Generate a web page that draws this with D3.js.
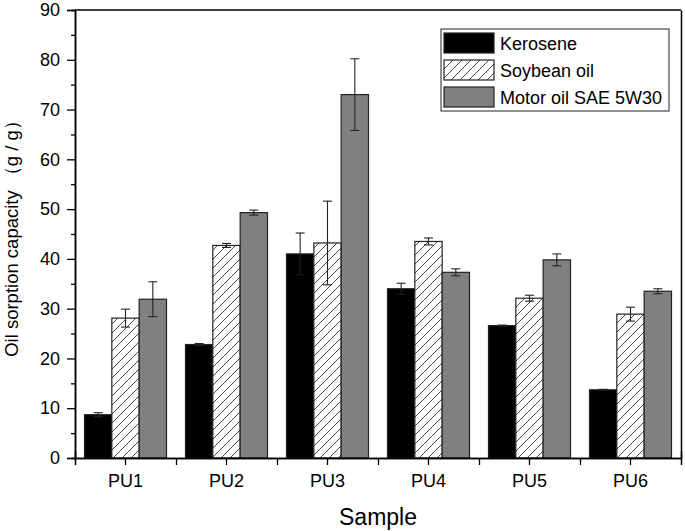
<!DOCTYPE html>
<html>
<head>
<meta charset="utf-8">
<script src="https://cdn.jsdelivr.net/npm/d3@7"></script>
<style>
  body { margin: 0; background: #fff; }
  text { font-family: Arial, "Liberation Sans", sans-serif; fill: #000; }
</style>
</head>
<body>
<svg id="chart" width="685" height="531"></svg>
<script>
const samples = ["PU1", "PU2", "PU3", "PU4", "PU5", "PU6"];
const seriesNames = ["Kerosene", "Soybean oil", "Motor oil SAE 5W30"];
const kerosene = [8.7, 22.8, 41.0, 34.0, 26.6, 13.7];
const keroseneErr = [0.4, 0.2, 4.2, 1.1, 0.1, 0.1];
const soybean = [28.1, 42.7, 43.2, 43.5, 32.1, 28.9];
const soybeanErr = [1.8, 0.4, 8.4, 0.7, 0.6, 1.4];
const motor = [31.9, 49.3, 73.0, 37.3, 39.8, 33.5];
const motorErr = [3.5, 0.5, 7.2, 0.7, 1.2, 0.5];
const yTicks = [0, 10, 20, 30, 40, 50, 60, 70, 80, 90];

const margin = { left: 75, right: 4, top: 10, bottom: 73 };
const W = 685, H = 531;
const width = W - margin.left - margin.right;
const height = H - margin.top - margin.bottom;

const svg = d3.select("#chart");

const defs = svg.append("defs");
defs.append("pattern")
  .attr("id", "hatch")
  .attr("patternUnits", "userSpaceOnUse")
  .attr("width", 9)
  .attr("height", 9)
  .call(p => {
    p.append("rect").attr("width", 9).attr("height", 9).attr("fill", "#fff");
    p.append("path")
      .attr("d", "M0,9 L9,0 M-2,2 L2,-2 M7,11 L11,7")
      .attr("stroke", "#333")
      .attr("stroke-width", 0.9);
  });

const fills = ["#000", "url(#hatch)", "#808080"];
const values = [kerosene, soybean, motor];
const errs = [keroseneErr, soybeanErr, motorErr];

const g = svg.append("g").attr("transform", `translate(${margin.left},${margin.top})`);

const x = d3.scaleBand().domain(samples).range([0, width]).padding(0);
const groupW = 82;
const xs = d3.scaleBand().domain(d3.range(3)).range([0, groupW]);
const y = d3.scaleLinear().domain([0, 90]).range([height, 0]);

// bars
values.forEach((vals, s) => {
  const off = x.bandwidth() / 2 - groupW / 2 + xs(s);
  g.append("g").selectAll("rect")
    .data(vals)
    .join("rect")
    .attr("x", (d, i) => x(samples[i]) + off)
    .attr("y", d => y(d))
    .attr("width", xs.bandwidth())
    .attr("height", d => height - y(d))
    .attr("fill", fills[s])
    .attr("stroke", "#222")
    .attr("stroke-width", 1.2);

  // error bars
  const eg = g.append("g").attr("stroke", "#222").attr("stroke-width", 1.1);
  vals.forEach((d, i) => {
    const cx = x(samples[i]) + off + xs.bandwidth() / 2;
    const e = errs[s][i];
    const y1 = y(d + e), y2 = y(d - e);
    eg.append("line").attr("x1", cx).attr("x2", cx).attr("y1", y1).attr("y2", y2);
    eg.append("line").attr("x1", cx - 4.5).attr("x2", cx + 4.5).attr("y1", y1).attr("y2", y1);
    eg.append("line").attr("x1", cx - 4.5).attr("x2", cx + 4.5).attr("y1", y2).attr("y2", y2);
  });
});

// axes
const yAxis = g.append("g")
  .call(d3.axisLeft(y).tickValues(yTicks).tickSize(8).tickPadding(7));
const yMinor = g.append("g")
  .call(d3.axisLeft(y).tickValues(d3.range(5, 90, 10)).tickSize(4).tickFormat(""));
const yRight = g.append("g").attr("transform", `translate(${width},0)`)
  .call(d3.axisRight(y).tickValues([]).tickSize(0));

const xAxis = g.append("g").attr("transform", `translate(0,${height})`)
  .call(d3.axisBottom(x).tickSize(-7).tickPadding(16));
xAxis.selectAll(".tick line").attr("y2", 7).attr("y1", 0);
const xMinor = g.append("g").attr("transform", `translate(0,${height})`)
  .call(d3.axisBottom(d3.scaleLinear().domain([0, width]).range([0, width]))
    .tickValues(samples.map(s => x(s)).slice(1)).tickSize(7).tickFormat(""));

g.append("line").attr("x1", 0).attr("x2", width).attr("y1", 0).attr("y2", 0)
  .attr("stroke", "#000").attr("stroke-width", 1.5);

[yAxis, yMinor, yRight, xAxis, xMinor].forEach(a => {
  a.selectAll("path.domain").attr("stroke", "#000").attr("stroke-width", 1.5);
  a.selectAll(".tick line").attr("stroke", "#000").attr("stroke-width", 1.3);
  a.selectAll("text").attr("font-size", 18).attr("font-family", "Arial, 'Liberation Sans', sans-serif").attr("fill", "#000");
});

// axis titles
svg.append("text")
  .attr("x", margin.left + width / 2)
  .attr("y", 525)
  .attr("text-anchor", "middle")
  .attr("font-size", 23)
  .text("Sample");

svg.append("text")
  .attr("transform", `translate(18,${margin.top + height / 2}) rotate(-90)`)
  .attr("text-anchor", "middle")
  .attr("font-size", 18.5)
  .text("Oil sorption capacity （g / g）");

// legend
const lg = svg.append("g").attr("transform", "translate(441,29)");
lg.append("rect").attr("width", 228).attr("height", 82)
  .attr("fill", "#fff").attr("stroke", "#222").attr("stroke-width", 1);
seriesNames.forEach((name, i) => {
  const row = lg.append("g").attr("transform", `translate(3,${4 + i * 27})`);
  row.append("rect").attr("width", 50).attr("height", 20)
    .attr("fill", fills[i]).attr("stroke", "#222").attr("stroke-width", 1.2);
  row.append("text").attr("x", 56).attr("y", 16.5).attr("font-size", 18).text(name);
});
</script>
</body>
</html>
